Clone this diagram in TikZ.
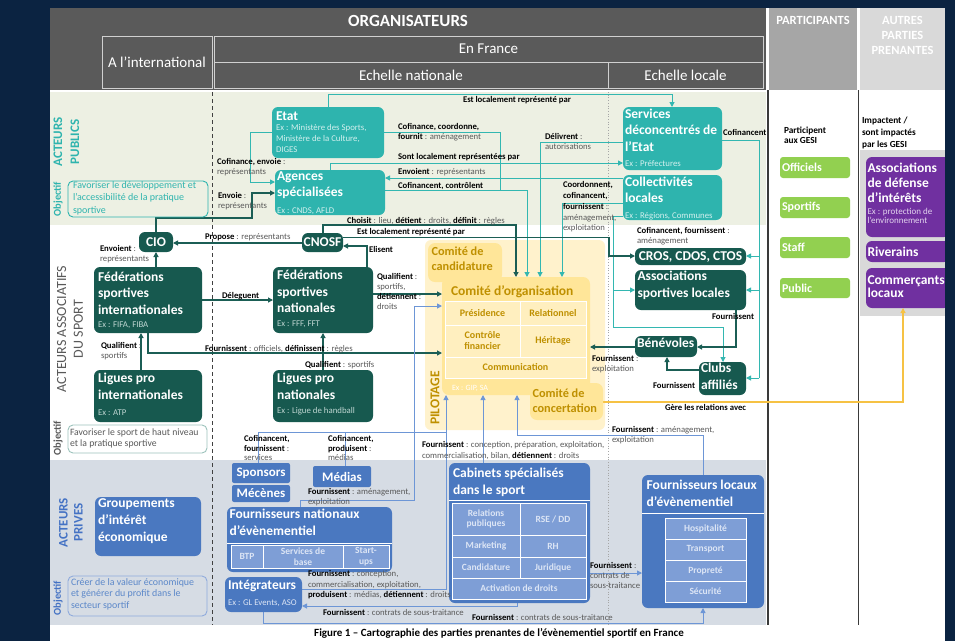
\documentclass[tikz,border=0pt]{standalone}
\usepackage{fontspec}
\setmainfont{Carlito}
\usetikzlibrary{arrows.meta}
\pgfdeclarelayer{back}
\pgfdeclarelayer{links}
\pgfsetlayers{back,links,main}

\definecolor{navy}{HTML}{0B2341}
\definecolor{hdr}{HTML}{5A5A5A}
\definecolor{hdrP}{HTML}{A6A6A6}
\definecolor{hdrA}{HTML}{D9D9D9}
\definecolor{hline}{HTML}{D0D0D0}
\definecolor{bandG}{HTML}{EDF0E3}
\definecolor{bandB}{HTML}{D6DCE4}
\definecolor{tealL}{HTML}{2EB4AE}
\definecolor{tealD}{HTML}{17594F}
\definecolor{exT}{HTML}{D3F0EE}
\definecolor{exD}{HTML}{BFD6D2}
\definecolor{blueB}{HTML}{4A78C0}
\definecolor{blueC}{HTML}{7E9ED6}
\definecolor{exB}{HTML}{DCE5F5}
\definecolor{blueT}{HTML}{4472C4}
\definecolor{blueO}{HTML}{5B87C9}
\definecolor{blueOb}{HTML}{8FAADC}
\definecolor{yelP}{HTML}{FFF2CC}
\definecolor{yelB}{HTML}{FFE699}
\definecolor{yelC}{HTML}{FFEFBF}
\definecolor{gold}{HTML}{BF9000}
\definecolor{greenP}{HTML}{92D050}
\definecolor{purp}{HTML}{7030A0}
\definecolor{exP}{HTML}{E2D3EE}
\definecolor{grayG}{HTML}{D9D9D9}
\definecolor{lab}{HTML}{595959}
\definecolor{objA}{HTML}{9CC3BC}
\definecolor{lnT}{HTML}{33B7B1}
\definecolor{lnD}{HTML}{1B5E55}
\definecolor{lnB}{HTML}{6D96D6}
\definecolor{lnY}{HTML}{F6C244}
\definecolor{colLine}{HTML}{3A3A3A}
\definecolor{dashCol}{HTML}{404040}

\newcommand\fTi{\fontsize{13.5}{16.6}\selectfont\bfseries}
\newcommand\fEx{\fontsize{8.8}{10.8}\selectfont}
\newcommand\fLb{\fontsize{8.7}{10.2}\selectfont}
\newcommand\kw[1]{{\bfseries\color{black}#1}}

% rectangle node from its corners: name, x1, y1, x2, y2, style
\newcommand\bx[6]{%
  \pgfmathsetmacro\bxw{#4-#2}%
  \pgfmathsetmacro\bxh{#5-#3}%
  \pgfmathsetmacro\bxx{(#2+#4)/2}%
  \pgfmathsetmacro\bxy{(#3+#5)/2}%
  \node[#6, minimum width=\bxw pt, minimum height=\bxh pt] (#1) at (\bxx,\bxy) {};}

\tikzset{
  every node/.style={inner sep=0pt, outer sep=0pt},
  pubbox/.style={fill=tealL, rounded corners=6pt},
  assobox/.style={fill=tealD, rounded corners=6pt},
  privbox/.style={fill=blueB, rounded corners=6pt},
  pcell/.style={fill=blueC, draw=white, line width=0.9pt},
  ycell/.style={fill=yelC, draw=white, line width=0.9pt},
  ybox/.style={fill=yelB, rounded corners=7pt},
  gbox/.style={fill=greenP, rounded corners=3pt},
  purpbox/.style={fill=purp, rounded corners=6pt},
  headbox/.style={draw=hline, line width=1pt},
  objbox/.style={rounded corners=5pt, line width=0.9pt},
  ttl/.style={text=white, font=\fTi, align=left, anchor=north west, execute at begin node=\strut},
  exl/.style={font=\fEx, align=left, anchor=north west, execute at begin node=\strut},
  lbl/.style={text=lab, font=\fLb, align=left, anchor=north west, execute at begin node=\strut},
  ycelltx/.style={text=gold, font=\fontsize{10}{11}\selectfont\bfseries, align=center},
  pcelltx/.style={text=exB, font=\fontsize{9.5}{10.5}\selectfont\bfseries, align=center},
  gtx/.style={text=white, font=\fontsize{12}{14}\selectfont\bfseries, anchor=west},
  hdtx/.style={text=white, font=\fontsize{15}{18}\selectfont},
  tl/.style={draw=lnT, line width=1pt},
  dk/.style={draw=lnD, line width=1.1pt},
  bl/.style={draw=lnB, line width=1pt},
  yl/.style={draw=lnY, line width=1.1pt},
  arr/.style={-{Triangle[length=5pt,width=5pt]}},
}

\begin{document}
\begin{tikzpicture}[x=1pt,y=-1pt]
\useasboundingbox (0,0) rectangle (955,641);

% ---------- backgrounds ----------
\begin{pgfonlayer}{back}
\fill[navy] (0,0) rectangle (955,641);
\fill[white] (50,8) rectangle (945,641);
\fill[hdr] (50,8) rectangle (766,90);
\fill[hdrP] (769,8) rectangle (857,90);
\fill[hdrA] (860,8) rectangle (945,90);
\fill[bandG] (50,92) rectangle (766,225);
\fill[bandB] (50,460) rectangle (766,625);
\fill[grayG] (860,150) rectangle (945,316);
\draw[colLine, line width=1.3pt] (768,90) -- (768,625);
\draw[colLine, line width=1.3pt] (858.5,90) -- (858.5,625);
\draw[dashCol, line width=1pt, dash pattern=on 4pt off 3pt] (212,92) -- (212,625);
\draw[gray!70, line width=0.7pt, dotted] (608,92) -- (608,625);
\fill[yelP, rounded corners=6pt] (425,240) rectangle (605,430);
\end{pgfonlayer}

% ---------- header ----------
\node[text=white, font=\fontsize{17}{20}\selectfont\bfseries] (org) at (408,21) {ORGANISATEURS};
\bx{intl}{102}{36}{212}{88}{headbox}
\node[hdtx] (intl-t) at (intl) {A l’international};
\bx{fra}{214}{36}{763}{62}{headbox}
\node[hdtx] (fra-t) at (fra) {En France};
\bx{nat}{214}{62}{608}{88}{headbox}
\node[hdtx] (nat-t) at (nat) {Echelle nationale};
\bx{loc}{608}{62}{763}{88}{headbox}
\node[hdtx] (loc-t) at (loc) {Echelle locale};
\node[text=white, font=\fontsize{12.5}{15}\selectfont\bfseries] (part-h) at (813,20) {PARTICIPANTS};
\node[text=white, font=\fontsize{12.5}{15}\selectfont\bfseries, align=center] (autres-h) at (902.5,35) {AUTRES\\PARTIES\\PRENANTES};

% ---------- side labels and objectives ----------
\node[rotate=90, text=tealL, font=\fontsize{13}{17}\selectfont\bfseries, align=center] (side-pub) at (66.5,142) {ACTEURS\\PUBLICS};
\node[rotate=90, text=tealL, font=\fontsize{10.5}{12}\selectfont\bfseries] (obj-pub) at (58,199) {Objectif};
\bx{objpub}{68}{181}{208}{217}{objbox, draw=tealL}
\node[text=tealL, font=\fontsize{10}{12.3}\selectfont, align=left, anchor=north west, execute at begin node=\strut] (objpub-t) at (73,181.5) {Favoriser le développement et\\l’accessibilité de la pratique\\sportive};

\node[rotate=90, text=lab, font=\fontsize{14}{16.6}\selectfont, align=center] (side-asso) at (70,329) {ACTEURS ASSOCIATIFS\\DU SPORT};
\node[rotate=90, text=lab, font=\fontsize{10.5}{12}\selectfont\bfseries] (obj-asso) at (58,438) {Objectif};
\bx{objasso}{68}{425}{207}{453}{objbox, draw=objA}
\node[text=lab, font=\fontsize{9.7}{10.7}\selectfont, align=left, anchor=north west, execute at begin node=\strut] (objasso-t) at (70,429.2) {Favoriser le sport de haut niveau\\et la pratique sportive};

\node[rotate=90, text=blueT, font=\fontsize{13}{15}\selectfont\bfseries, align=center] (side-priv) at (71,522.5) {ACTEURS\\PRIVES};
\node[rotate=90, text=blueT, font=\fontsize{10.5}{12}\selectfont\bfseries] (obj-priv) at (58,598) {Objectif};
\bx{objpriv}{68}{576}{207}{616}{objbox, draw=blueOb}
\node[text=blueO, font=\fontsize{9.9}{11.7}\selectfont, align=left, anchor=north west, execute at begin node=\strut] (objpriv-t) at (71,578.2) {Créer de la valeur économique\\et générer du profit dans le\\secteur sportif};

% ---------- public actors ----------
\bx{etat}{272}{107}{384}{158}{pubbox}
\node[ttl] (etat-t) at (276,108.6) {Etat};
\node[exl, text=exT] (etat-x) at (276,124.6) {Ex : Ministère des Sports,\\Ministère de la Culture,\\DIGES};
\bx{agen}{275}{170}{385}{215}{pubbox}
\node[ttl] (agen-t) at (277,171.6) {Agences\\spécialisées};
\node[exl, text=exT] (agen-x) at (277,205.6) {Ex : CNDS, AFLD};
\bx{serv}{623}{107}{722}{170}{pubbox}
\node[ttl] (serv-t) at (625,108.9) {Services\\déconcentrés de\\l’Etat};
\node[exl, text=exT] (serv-x) at (625,158.6) {Ex : Préfectures};
\bx{coll}{623}{175}{722}{220}{pubbox}
\node[ttl] (coll-t) at (625,176.6) {Collectivités\\locales};
\node[exl, text=exT] (coll-x) at (625,210.6) {Ex : Régions, Communes};

% ---------- sports associations ----------
\bx{cio}{139}{232}{173}{252}{assobox}
\node[text=white, font=\fTi] (cio-t) at (cio) {CIO};
\bx{fsi}{94}{267}{202}{333}{assobox}
\node[ttl] (fsi-t) at (98,271.6) {Fédérations\\sportives\\internationales};
\node[exl, text=exD] (fsi-x) at (98,319.6) {Ex : FIFA, FIBA};
\bx{lpi}{94}{370}{202}{422}{assobox}
\node[ttl] (lpi-t) at (98,373.3) {Ligues pro\\internationales};
\node[exl, text=exD] (lpi-x) at (98,407.9) {Ex : ATP};
\bx{cnosf}{302}{233}{343}{252}{assobox}
\node[text=white, font=\fTi] (cnosf-t) at (cnosf) {CNOSF};
\bx{fsn}{273}{267}{373}{333}{assobox}
\node[ttl] (fsn-t) at (277,270) {Fédérations\\sportives\\nationales};
\node[exl, text=exD] (fsn-x) at (277,318.9) {Ex : FFF, FFT};
\bx{lpn}{273}{370}{373}{422}{assobox}
\node[ttl] (lpn-t) at (277,373.3) {Ligues pro\\nationales};
\node[exl, text=exD] (lpn-x) at (277,406.3) {Ex : Ligue de handball};
\bx{cros}{635}{248}{746}{265}{assobox}
\node[text=white, font=\fTi] (cros-t) at (cros) {CROS, CDOS, CTOS};
\bx{assoc}{635}{270}{746}{310}{assobox}
\node[ttl] (assoc-t) at (637.5,271) {Associations\\sportives locales};
\bx{bene}{635}{336}{697}{357}{assobox}
\node[ttl] (bene-t) at (637,335.6) {Bénévoles};
\bx{clubs}{699}{362}{746}{395}{assobox}
\node[ttl] (clubs-t) at (701,363.3) {Clubs\\affiliés};

% ---------- organising committees ----------
\node[rotate=90, text=gold, font=\fontsize{13.5}{15}\selectfont\bfseries] (pilot) at (435,398) {PILOTAGE};
\bx{comorg}{442}{277}{590}{395}{ybox}
\node[text=gold, font=\fontsize{13.5}{16}\selectfont\bfseries, anchor=west] (comorg-t) at (451,291.5) {Comité d’organisation};
\bx{pres}{445}{301}{520}{325}{ycell}
\bx{rel}{520}{301}{586}{325}{ycell}
\bx{ctrl}{445}{325}{520}{357}{ycell}
\bx{her}{520}{325}{586}{357}{ycell}
\bx{commu}{445}{357}{586}{378}{ycell}
\node[ycelltx] (pres-t) at (pres) {Présidence};
\node[ycelltx] (rel-t) at (rel) {Relationnel};
\node[ycelltx] (ctrl-t) at (ctrl) {Contrôle\\financier};
\node[ycelltx] (her-t) at (her) {Héritage};
\node[ycelltx] (commu-t) at (commu) {Communication};
\node[text=white, font=\fontsize{8}{9}\selectfont, anchor=west] (comorg-x) at (452,388.5) {Ex : GIP, SA};
\bx{cand}{428}{243}{502}{282}{ybox}
\node[text=gold, font=\fontsize{12.3}{15}\selectfont\bfseries, align=left, anchor=north west, execute at begin node=\strut] (cand-t) at (431.5,246.8) {Comité de\\candidature};
\bx{conc}{530}{383}{603}{420}{ybox}
\node[text=gold, font=\fontsize{12.3}{15}\selectfont\bfseries, align=left, anchor=north west, execute at begin node=\strut] (conc-t) at (532.5,389.2) {Comité de\\concertation};

% ---------- private actors ----------
\bx{spons}{232}{463}{290}{483}{privbox, rounded corners=2pt}
\node[text=white, font=\fontsize{13}{15}\selectfont\bfseries] (spons-t) at (spons) {Sponsors};
\bx{mecen}{232}{485}{290}{502}{privbox, rounded corners=2pt}
\node[text=white, font=\fontsize{13}{15}\selectfont\bfseries] (mecen-t) at (mecen) {Mécènes};
\bx{medias}{313}{466}{371}{487}{privbox, rounded corners=2pt}
\node[text=white, font=\fontsize{13}{15}\selectfont\bfseries] (medias-t) at (medias) {Médias};
\bx{fne}{227}{507}{392}{572}{privbox}
\node[ttl] (fne-t) at (229.5,508.9) {Fournisseurs nationaux\\d’évènementiel};
\draw[white, line width=0.9pt] (fne.west |- 0,543) -- (fne.east |- 0,543);
\bx{btp}{231}{545}{263}{568}{pcell}
\bx{sdb}{263}{545}{343}{568}{pcell}
\bx{stu}{343}{545}{389}{568}{pcell}
\node[pcelltx] (btp-t) at (btp) {BTP};
\node[pcelltx] (sdb-t) at (sdb) {Services de\\base};
\node[pcelltx] (stu-t) at (stu) {Start-\\ups};
\bx{gie}{95}{497}{201}{556}{privbox}
\node[ttl] (gie-t) at (98,499) {Groupements\\d’intérêt\\économique};
\bx{integ}{225}{577}{302}{612}{privbox}
\node[ttl] (integ-t) at (228,577.6) {Intégrateurs};
\node[exl, text=exB] (integ-x) at (228,597.9) {Ex : GL Events, ASO};

\bx{cab}{449}{463}{590}{603}{privbox}
\node[ttl] (cab-t) at (453,468.4) {Cabinets spécialisés\\dans le sport};
\draw[white, line width=0.9pt] (cab.west |- 0,500) -- (cab.east |- 0,500);
\bx{rp}{452}{503}{520}{535}{pcell}
\bx{rse}{520}{503}{586}{535}{pcell}
\bx{mkt}{452}{535}{520}{557}{pcell}
\bx{rh}{520}{535}{586}{557}{pcell}
\bx{cdt}{452}{557}{520}{578}{pcell}
\bx{jur}{520}{557}{586}{578}{pcell}
\bx{act}{452}{578}{586}{599}{pcell}
\node[pcelltx] (rp-t) at (rp) {Relations\\publiques};
\node[pcelltx] (rse-t) at (rse) {RSE / DD};
\node[pcelltx] (mkt-t) at (mkt) {Marketing};
\node[pcelltx] (rh-t) at (rh) {RH};
\node[pcelltx] (cdt-t) at (cdt) {Candidature};
\node[pcelltx] (jur-t) at (jur) {Juridique};
\node[pcelltx] (act-t) at (act) {Activation de droits};

\bx{fle}{642}{475}{764}{608}{privbox}
\node[ttl] (fle-t) at (646.7,480) {Fournisseurs locaux\\d’évènementiel};
\draw[white, line width=0.9pt] (fle.west |- 0,513) -- (fle.east |- 0,513);
\bx{hosp}{665}{518}{746}{539}{pcell}
\bx{trans}{665}{539}{746}{560}{pcell}
\bx{prop}{665}{560}{746}{581}{pcell}
\bx{secu}{665}{581}{746}{602}{pcell}
\node[pcelltx] (hosp-t) at (hosp) {Hospitalité};
\node[pcelltx] (trans-t) at (trans) {Transport};
\node[pcelltx] (prop-t) at (prop) {Propreté};
\node[pcelltx] (secu-t) at (secu) {Sécurité};

% ---------- participants ----------
\node[font=\fontsize{9.3}{10}\selectfont\bfseries, align=left, anchor=north west, execute at begin node=\strut] (part-t) at (784,126.9) {Participent\\aux GESI};
\bx{offi}{780}{157}{850}{178}{gbox}
\node[gtx] (offi-t) at (782,167.5) {Officiels};
\bx{sprt}{780}{197}{850}{218}{gbox}
\node[gtx] (sprt-t) at (782,207.5) {Sportifs};
\bx{staf}{780}{237}{850}{258}{gbox}
\node[gtx] (staf-t) at (782,247.5) {Staff};
\bx{publ}{780}{278}{850}{298}{gbox}
\node[gtx] (publ-t) at (782,288) {Public};

% ---------- other stakeholders ----------
\node[font=\fontsize{9.3}{11.7}\selectfont\bfseries, align=left, anchor=north west, execute at begin node=\strut] (imp-t) at (862,117.3) {Impactent /\\sont impactés\\par les GESI};
\bx{adi}{866}{157}{950}{237}{purpbox}
\node[text=white, font=\fontsize{13.5}{15}\selectfont\bfseries, align=left, anchor=north west, execute at begin node=\strut] (adi-t) at (867.5,162.7) {Associations\\de défense\\d’intérêts};
\node[text=exP, font=\fontsize{9}{9.5}\selectfont, align=left, anchor=north west, execute at begin node=\strut] (adi-x) at (867.5,208) {Ex : protection de\\l’environnement};
\bx{riv}{866}{241}{950}{262}{purpbox}
\node[text=white, font=\fontsize{13.5}{15}\selectfont\bfseries, anchor=west] (riv-t) at (867.5,251.5) {Riverains};
\bx{comr}{866}{268}{950}{308}{purpbox}
\node[text=white, font=\fontsize{13.5}{13.5}\selectfont\bfseries, align=left, anchor=north west, execute at begin node=\strut] (comr-t) at (867.5,275.6) {Commerçants\\locaux};

% ---------- connectors ----------
\coordinate (jc) at (759,256);
\coordinate (ja) at (759,290);
\coordinate (jl) at (613,290);
\coordinate (js) at (446,432);
\coordinate (jm) at (345,432);
\begin{pgfonlayer}{links}
% public actors
\draw[tl,arr] (etat.north -| 328,0) -- (328,94) -- (672,94) -- (serv.north -| 672,0);
\draw[tl] (etat.east |- 0,132) -- (500,132) -- (500,190);
\draw[tl,arr] (agen.north -| 330,0) -- (330,163) -- (serv.west |- 0,163);
\draw[tl,arr] (coll.west |- 0,178) -- (agen.east |- 0,178);
\draw[tl,arr] (agen.east |- 0,190) -- (527,190) -- (comorg.north -| 527,0);
\draw[tl,arr] (serv.west |- 0,142) -- (540,142) -- (comorg.north -| 540,0);
\draw[tl,arr] (coll.west |- 0,203) -- (562,203) -- (comorg.north -| 562,0);
\draw[tl,arr] (etat.west |- 0,132) -- (250,132) -- (250,182) -- (agen.west |- 0,182);
\draw[tl] (serv.east |- 0,140) -- (759,140) -- (759,378);
\draw[tl,arr] (jc) -- (cros.east |- jc);
\draw[tl,arr] (ja) -- (assoc.east |- ja);
\draw[tl,arr] (759,378) -- (clubs.east |- 0,378);
\draw[tl,arr] (coll.west |- 0,216) -- (613,216) -- (613,327) -- (723,327) -- (clubs.north -| 723,0);
\draw[tl,arr] (jl) -- (assoc.west |- jl);
% sports associations
\draw[dk,arr] (cio.north -| 156,0) -- (156,218) -- (252,218) -- (252,193) -- (agen.west |- 0,193);
\draw[dk,arr] (cnosf.west |- 0,243) -- (cio.east |- 0,243);
\draw[dk,arr] (cnosf.north -| 323,0) -- (323,225) -- (516,225) -- (comorg.north -| 516,0);
\draw[dk,arr] (cnosf.east |- 0,237.5) -- (609,237.5) -- (609,256) -- (cros.west |- 0,256);
\draw[dk,arr] (fsn.north -| 367,0) -- (367,246) -- (cnosf.east |- 0,246);
\draw[dk,arr] (fsi.north -| 156,0) -- (cio.south -| 156,0);
\draw[dk,arr] (fsi.east |- 0,300) -- (fsn.west |- 0,300);
\draw[dk,arr] (lpi.north -| 141,0) -- (fsi.south -| 141,0);
\draw[dk,arr] (fsi.south -| 148,0) -- (148,353) -- (comorg.west |- 0,353);
\draw[dk,arr] (lpn.north -| 323,0) -- (fsn.south -| 323,0);
\draw[dk,arr] (fsn.east |- 0,294) -- (comorg.west |- 0,294);
\draw[dk,arr] (assoc.south -| 736,0) -- (736,347) -- (bene.east |- 0,347);
\draw[dk,arr] (bene.west |- 0,347) -- (comorg.east |- 0,347);
\draw[dk,arr] (clubs.west |- 0,370) -- (667,370) -- (bene.south -| 667,0);
% concertation
\draw[yl,arr] (conc.east |- 0,402) -- (903,402) -- (comr.south -| 903,0);
% private actors
\draw[bl,arr] (integ.east |- 0,589) -- (446,589) -- (comorg.south -| 446,0);
\draw[bl] (spons.north -| 258,0) -- (258,432) -- (js);
\draw[bl] (medias.north -| jm) -- (jm);
\draw[bl,arr] (fne.north -| 300,0) -- (300,500) -- (414,500) -- (414,306) -- (comorg.west |- 0,306);
\draw[bl,arr] (cab.north -| 483,0) -- (comorg.south -| 483,0);
\draw[bl,arr] (fle.north -| 703,0) -- (703,435) -- (517,435) -- (comorg.south -| 517,0);
\draw[bl,arr] (cab.south -| 517,0) -- (517,606) -- (integ.east |- 0,606);
\draw[bl,arr] (integ.south -| 263,0) -- (263,623) -- (703,623) -- (fle.south -| 703,0);
\draw[bl,arr] (cab.east |- 0,573) -- (fle.west |- 0,573);
\end{pgfonlayer}

% ---------- connector labels ----------
\node[lbl] (l1) at (463,95) {\kw{Est localement représenté par}};
\node[lbl] (l2) at (398,123) {\kw{Cofinance, coordonne,}\\\kw{fournit} : aménagement};
\node[lbl] (l3) at (398,152) {\kw{Sont localement représentées par}};
\node[lbl] (l4) at (398,167) {\kw{Envoient} : représentants};
\node[lbl] (l5) at (398,181) {\kw{Cofinancent, contrôlent}};
\node[lbl] (l6) at (347,216) {\kw{Choisit} : lieu, \kw{détient} : droits, \kw{définit} : règles};
\node[lbl] (l7) at (357,227) {\kw{Est localement représenté par}};
\node[lbl] (l8) at (545,133) {\kw{Délivrent} :\\autorisations};
\node[lbl, font=\fontsize{8.7}{10.8}\selectfont] (l9) at (563,181.5) {\kw{Coordonnent,}\\\kw{cofinancent,}\\\kw{fournissent} :\\aménagement,\\exploitation};
\node[lbl] (l10) at (723,128) {\kw{Cofinancent}};
\node[lbl] (l11) at (637,227) {\kw{Cofinancent, fournissent} :\\aménagement};
\node[lbl] (l12) at (217,158) {\kw{Cofinance, envoie} :\\représentants};
\node[lbl] (l13) at (218,192) {\kw{Envoie} :\\représentants};
\node[lbl] (l14) at (205,232) {\kw{Propose} : représentants};
\node[lbl] (l15) at (369,245) {\kw{Elisent}};
\node[lbl] (l16) at (100,245) {\kw{Envoient} :\\représentants};
\node[lbl] (l17) at (222,291) {\kw{Déleguent}};
\node[lbl] (l18) at (377,273) {\kw{Qualifient} :\\sportifs,\\\kw{détiennent} :\\droits};
\node[lbl] (l19) at (101,342) {\kw{Qualifient} :\\sportifs};
\node[lbl] (l20) at (205,344) {\kw{Fournissent} : officiels, \kw{définissent} : règles};
\node[lbl] (l21) at (305,360) {\kw{Qualifient} : sportifs};
\node[lbl] (l22) at (712,312) {\kw{Fournissent}};
\node[lbl] (l23) at (592,355) {\kw{Fournissent} :\\exploitation};
\node[lbl] (l24) at (653,381) {\kw{Fournissent}};
\node[lbl] (l25) at (665,403) {\kw{Gère les relations avec}};
\node[lbl, font=\fontsize{8.7}{9.6}\selectfont] (l26) at (244,435.4) {\kw{Cofinancent,}\\\kw{fournissent} :\\services};
\node[lbl, font=\fontsize{8.7}{9.6}\selectfont] (l27) at (328,435.4) {\kw{Cofinancent,}\\\kw{produisent} :\\médias};
\node[lbl, font=\fontsize{8.7}{10.8}\selectfont] (l28) at (422,441.5) {\kw{Fournissent} : conception, préparation, exploitation,\\commercialisation, bilan, \kw{détiennent} : droits};
\node[lbl] (l29) at (612,426) {\kw{Fournissent} : aménagement,\\exploitation};
\node[lbl, font=\fontsize{8.7}{9.6}\selectfont] (l30) at (308,488.4) {\kw{Fournissent} : aménagement,\\exploitation};
\node[lbl, font=\fontsize{8.7}{10.5}\selectfont] (l31) at (308,570.7) {\kw{Fournissent} : conception,\\commercialisation, exploitation,\\\kw{produisent} : médias, \kw{détiennent} : droits};
\node[lbl] (l32) at (323,608) {\kw{Fournissent} : contrats de sous-traitance};
\node[lbl] (l33) at (472,613) {\kw{Fournissent} : contrats de sous-traitance};
\node[lbl] (l34) at (590,562) {\kw{Fournissent} :\\contrats de\\sous-traitance};

% ---------- caption ----------
\node[font=\fontsize{11}{13}\selectfont\bfseries, anchor=base] (caption) at (499,636.5) {Figure 1 – Cartographie des parties prenantes de l’évènementiel sportif en France};

% right-hand frame edge
\fill[navy] (945,0) rectangle (955,641);
\end{tikzpicture}
\end{document}
